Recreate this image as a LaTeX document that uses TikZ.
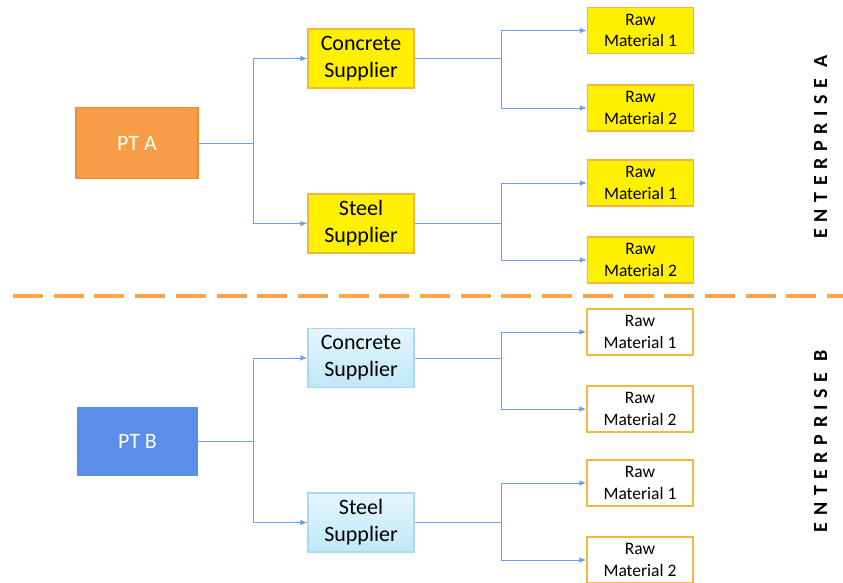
\documentclass[tikz,border=0pt]{standalone}
\usepackage{fontspec}
\setmainfont{Carlito}
\usetikzlibrary{arrows.meta}
\definecolor{ptorange}{HTML}{F89D45}
\definecolor{ptorangeline}{HTML}{F08C36}
\definecolor{ptblue}{HTML}{5A8EEA}
\definecolor{supyellow}{HTML}{FFF000}
\definecolor{supline}{HTML}{F3B53F}
\definecolor{skytop}{HTML}{E4F6FD}
\definecolor{skybottom}{HTML}{C0E7F8}
\definecolor{skyline}{HTML}{A6DAF2}
\definecolor{rawline}{HTML}{F2BA3A}
\definecolor{linkblue}{HTML}{6C9FF2}
\definecolor{splitorange}{HTML}{F9A447}

\begin{document}
\begin{tikzpicture}[x=1pt, y=-1pt,
  box/.style={inner sep=0pt, align=center, line width=1.2pt},
  ptbox/.style={box, text=white, font=\fontsize{22}{26}\selectfont},
  supbox/.style={box, minimum width=106pt, minimum height=59pt, font=\fontsize{22}{27}\selectfont},
  rawbox/.style={box, minimum width=106pt, minimum height=46pt, font=\fontsize{17.5}{21.5}\selectfont},
  link/.style={draw=linkblue, line width=1pt},
  flow/.style={link, -{Latex[length=7pt,width=5.5pt]}},
  side/.style={rotate=90, inner sep=0pt, font=\fontsize{20}{20}\selectfont\bfseries\addfontfeature{LetterSpace=33}}]
  \useasboundingbox (0,0) rectangle (843,582);

  % enterprise A
  \node [ptbox, draw=ptorangeline, fill=ptorange, minimum width=122pt, minimum height=71pt] (pta) at (137, 143) {PT A};
  \node [supbox, draw=supline, fill=supyellow] (cona) at (361, 58.5) {Concrete\\Supplier};
  \node [supbox, draw=supline, fill=supyellow] (stea) at (361, 223.5) {Steel\\Supplier};
  \node [rawbox, draw=supline, fill=supyellow] (ca1) at (640.5, 30.5) {Raw\\Material 1};
  \node [rawbox, draw=supline, fill=supyellow] (ca2) at (640.5, 108) {Raw\\Material 2};
  \node [rawbox, draw=supline, fill=supyellow] (sa1) at (640.5, 183) {Raw\\Material 1};
  \node [rawbox, draw=supline, fill=supyellow] (sa2) at (640.5, 260) {Raw\\Material 2};
  \node [side] (enta) at (820.5, 147) {ENTERPRISE A};

  \coordinate (ja) at (253, 143);
  \coordinate (jca) at (501, 58.5);
  \coordinate (jsa) at (501, 223.5);
  \path [link] (pta) -- (ja);
  \path [flow] (ja) |- (cona);
  \path [flow] (ja) |- (stea);
  \path [link] (cona) -- (jca);
  \path [flow] (jca) |- (ca1);
  \path [flow] (jca) |- (ca2);
  \path [link] (stea) -- (jsa);
  \path [flow] (jsa) |- (sa1);
  \path [flow] (jsa) |- (sa2);

  % split
  \draw [splitorange, line width=4pt, dash pattern=on 30pt off 10.7pt] (13, 296) -- (843, 296);

  % enterprise B
  \node [ptbox, draw=ptblue, fill=ptblue, minimum width=119pt, minimum height=67pt] (ptb) at (137.5, 441.5) {PT B};
  \node [supbox, draw=skyline, top color=skytop, bottom color=skybottom] (conb) at (361, 358) {Concrete\\Supplier};
  \node [supbox, draw=skyline, top color=skytop, bottom color=skybottom] (steb) at (361, 522.5) {Steel\\Supplier};
  \node [rawbox, draw=rawline, fill=white] (cb1) at (640, 332) {Raw\\Material 1};
  \node [rawbox, draw=rawline, fill=white] (cb2) at (640, 409) {Raw\\Material 2};
  \node [rawbox, draw=rawline, fill=white] (sb1) at (640, 483) {Raw\\Material 1};
  \node [rawbox, draw=rawline, fill=white] (sb2) at (640, 560) {Raw\\Material 2};
  \node [side] (entb) at (820.5, 441) {ENTERPRISE B};

  \coordinate (jb) at (253, 441.5);
  \coordinate (jcb) at (501, 358);
  \coordinate (jsb) at (501, 522.5);
  \path [link] (ptb) -- (jb);
  \path [flow] (jb) |- (conb);
  \path [flow] (jb) |- (steb);
  \path [link] (conb) -- (jcb);
  \path [flow] (jcb) |- (cb1);
  \path [flow] (jcb) |- (cb2);
  \path [link] (steb) -- (jsb);
  \path [flow] (jsb) |- (sb1);
  \path [flow] (jsb) |- (sb2);
\end{tikzpicture}
\end{document}
